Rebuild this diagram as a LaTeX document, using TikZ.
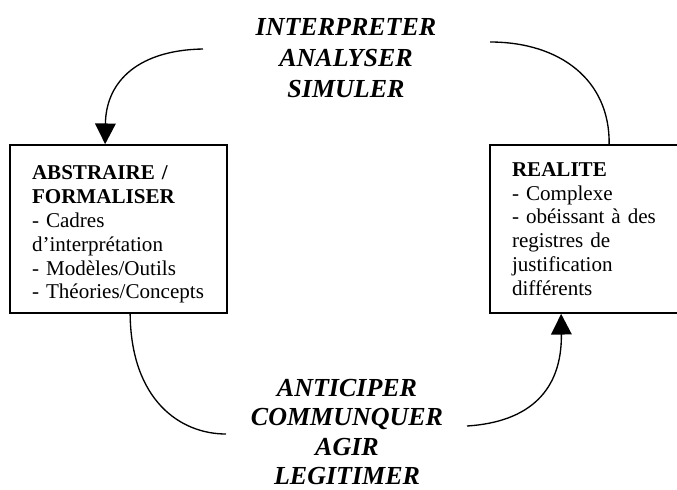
\documentclass[tikz,border=0pt]{standalone}
\usepackage{fontspec}
\setmainfont{Liberation Serif}
\usetikzlibrary{arrows.meta,calc}
\begin{document}
\begin{tikzpicture}[x=0.75pt,y=-0.75pt,
  box/.style={draw, line width=1.3pt, rectangle, align=left, inner xsep=16.5pt, inner ysep=0pt,
    font=\fontsize{15.8}{17.85}\selectfont},
  verb/.style={align=center, inner sep=0pt, font=\fontsize{19.5}{23.2}\selectfont\bfseries\itshape},
  link/.style={line width=1pt},
  tip/.style={-{Triangle[length=15.5pt,width=15.5pt]}}]
\useasboundingbox (0,0) rectangle (677,489);
\clip (0,0) rectangle (677,489);

\node[box, minimum width=162.75pt, minimum height=126pt, text width=129.75pt] (abs) at (118.5,229)
  {\rule{0pt}{19pt}\textbf{ABSTRAIRE /}\\\textbf{FORMALISER}\\- Cadres\\d’interprétation\\- Modèles/Outils\\- Théories/Concepts};
\node[box, minimum width=157.5pt, minimum height=126pt, text width=124.5pt] (real) at (595,229)
  {\textbf{REALITE}\\- Complexe\\- obéissant à des\\registres de\\justification\\différents};

\node[verb] (top) at (346,58) {INTERPRETER\\ANALYSER\\SIMULER};
\node[verb, font=\fontsize{19.5}{22.2}\selectfont\bfseries\itshape] (bot) at (347,432) {ANTICIPER\\COMMUNQUER\\AGIR\\LEGITIMER};

\coordinate (a1) at (203,49);
\coordinate (a2) at (490,42);
\coordinate (b1) at (226,434);
\coordinate (b2) at (467,426);

\draw[link,tip] (a1) .. controls (140,50) and (106,80) .. ($(abs.north west)+(96,0)$);
\draw[link] (a2) .. controls (560,42) and (610,80) .. ($(real.north west)+(120,0)$);
\draw[link] ($(abs.south west)+(121,0)$) .. controls (131,400) and (180,434) .. (b1);
\draw[link,tip] (b2) .. controls (530,422) and (562,390) .. ($(real.south west)+(72,0)$);
\end{tikzpicture}
\end{document}
